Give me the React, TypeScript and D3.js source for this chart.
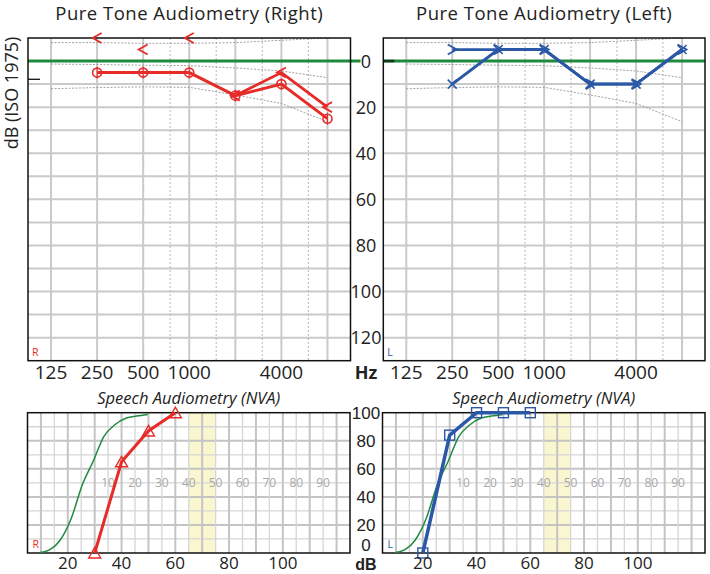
import React from 'react';
import * as d3 from 'd3';

// ---------- data ----------
const octaveFreqs = [125, 250, 500, 1000, 2000, 4000, 8000];
const halfOctaveFreqs = [750, 1500, 3000, 6000];
const freqTickValues = [125, 250, 500, 1000, 4000];
const freqTickLabels = ['125', '250', '500', '1000', '4000'];
const dbGridValues = [10, 20, 30, 40, 50, 60, 70, 80, 90, 100, 110, 120];
const dbTickValues = [0, 20, 40, 60, 80, 100, 120];

const normUpper = [-8, -8, -7.7, -7.7, -8, -9, -10];
const normMiddle = [1.3, 1.5, 1.8, 2, 3, 4.3, 7.2];
const normLower = [12, 11.5, 11.2, 11.4, 14.7, 18.4, 26.3];

const rightAcFreqs = [250, 500, 1000, 2000, 4000, 8000];
const rightAcValues = [5, 5, 5, 15, 10, 25];
const rightBoneMarkFreqs = [250, 500, 1000];
const rightBoneMarkValues = [-10, -5, -10];
const rightBoneLineFreqs = [2000, 4000, 8000];
const rightBoneLineValues = [15, 5, 20];

const leftAcFreqs = [250, 500, 1000, 2000, 4000, 8000];
const leftAcValues = [10, -5, -5, 10, 10, -5];
const leftBoneFreqs = [250, 500, 1000, 2000, 4000, 8000];
const leftBoneValues = [-5, -5, -5, 10, 10, -5];

const speechNormDb = [9.7, 13.5, 17.2, 21.3, 25.4, 29.4, 33.4, 37.5, 41.8, 45.6, 49.7];
const speechNormPct = [0.3, 2.6, 9.3, 24.8, 48.6, 65.2, 83, 91.4, 96.2, 97.6, 98.8];
const speechRightDb = [30, 40, 50, 60];
const speechRightPct = [0, 65, 87, 100];
const speechLeftDb = [20, 30, 40, 50, 60];
const speechLeftPct = [0, 84, 100, 100, 100];
const speechXTicks = [20, 40, 60, 80, 100];
const speechYTicks = [0, 20, 40, 60, 80, 100];
const speechRelLabels = [10, 20, 30, 40, 50, 60, 70, 80, 90];
const comfortBand = [65, 75];

// ---------- style ----------
const RED = '#e62b29';
const BLUE = '#2b58a6';
const GREEN = '#1f8a3e';
const GRID = '#cacaca';
const FONT = '"Open Sans", "Noto Sans", sans-serif';
const FONT2 = '"Liberation Sans", Arial, sans-serif';

type Pt = [number, number];

function PureTone({ x0, x1, side }: { x0: number; x1: number; side: 'R' | 'L' }) {
  const y0 = 38, y1 = 360.7;
  const x = d3.scaleLog().base(2).domain([125 / Math.SQRT2, 8000 * Math.SQRT2]).range([x0, x1]);
  const y = d3.scaleLinear().domain([-10, 130]).range([y0, y1]);
  const line = d3.line<Pt>().x(d => x(d[0])).y(d => y(d[1]));
  const norms = [normUpper, normMiddle, normLower];
  const color = side === 'R' ? RED : BLUE;

  const lt = (cx: number, cy: number, k: string) => (
    <path key={k} d={`M${cx + 4.5},${cy - 5}L${cx - 4.5},${cy}L${cx + 4.5},${cy + 5}`} fill="none" stroke={RED} strokeWidth={1.8} />
  );
  const gt = (cx: number, cy: number, k: string) => (
    <path key={k} d={`M${cx - 4.5},${cy - 5}L${cx + 4.5},${cy}L${cx - 4.5},${cy + 5}`} fill="none" stroke={BLUE} strokeWidth={1.8} />
  );
  const cross = (cx: number, cy: number, k: string) => (
    <path key={k} d={`M${cx - 4.5},${cy - 4.5}L${cx + 4.5},${cy + 4.5}M${cx - 4.5},${cy + 4.5}L${cx + 4.5},${cy - 4.5}`} fill="none" stroke={BLUE} strokeWidth={1.6} />
  );
  const circ = (cx: number, cy: number, k: string) => (
    <g key={k}>
      <circle cx={cx} cy={cy} r={4.5} fill="none" stroke={RED} strokeWidth={1.6} />
      <line x1={cx} x2={cx} y1={cy - 6} y2={cy + 6} stroke={RED} strokeWidth={1} />
    </g>
  );

  return (
    <g>
      {dbGridValues.map(v => (
        <line key={'h' + v} x1={x0} x2={x1} y1={y(v)} y2={y(v)} stroke={GRID} strokeWidth={2} />
      ))}
      {octaveFreqs.map(f => (
        <line key={'v' + f} x1={x(f)} x2={x(f)} y1={y0} y2={y1} stroke={GRID} strokeWidth={2} />
      ))}
      {halfOctaveFreqs.map(f => (
        <line key={'d' + f} x1={x(f)} x2={x(f)} y1={y0} y2={y1} stroke="#b8b8b8" strokeWidth={1} strokeDasharray="2,2" />
      ))}
      {norms.map((n, i) => (
        <path key={'n' + i} d={line(octaveFreqs.map((f, j) => [f, n[j]] as Pt)) || ''} fill="none" stroke="#8a8a8a" strokeWidth={0.8} strokeDasharray="2,1.5" />
      ))}
      <line x1={x0} x2={side === 'R' ? x1 + 10 : x1} y1={y(0)} y2={y(0)} stroke={GREEN} strokeWidth={3} />
      {side === 'L' && <line x1={x0} x2={x0 + 11} y1={y(0)} y2={y(0)} stroke="#16331f" strokeWidth={2.5} />}
      <rect x={x0} y={y0} width={x1 - x0} height={y1 - y0} fill="none" stroke="#111" strokeWidth={1.5} />
      {side === 'R' && <line x1={x0} x2={x0 + 12} y1={79.3} y2={79.3} stroke="#111" strokeWidth={1.3} />}

      {side === 'R' && (
        <g>
          <path d={line(rightBoneLineFreqs.map((f, i) => [f, rightBoneLineValues[i]] as Pt)) || ''} fill="none" stroke={color} strokeWidth={2.8} />
          <path d={line(rightAcFreqs.map((f, i) => [f, rightAcValues[i]] as Pt)) || ''} fill="none" stroke={color} strokeWidth={3} />
          {rightAcFreqs.map((f, i) => circ(x(f), y(rightAcValues[i]), 'c' + i))}
          {rightBoneLineFreqs.map((f, i) => lt(x(f), y(rightBoneLineValues[i]), 'bl' + i))}
          {rightBoneMarkFreqs.map((f, i) => lt(x(f), y(rightBoneMarkValues[i]), 'bm' + i))}
        </g>
      )}
      {side === 'L' && (
        <g>
          <path d={line(leftBoneFreqs.map((f, i) => [f, leftBoneValues[i]] as Pt)) || ''} fill="none" stroke={color} strokeWidth={2.8} />
          <path d={line(leftAcFreqs.map((f, i) => [f, leftAcValues[i]] as Pt)) || ''} fill="none" stroke={color} strokeWidth={3} />
          {leftAcFreqs.map((f, i) => cross(x(f), y(leftAcValues[i]), 'x' + i))}
          {leftBoneFreqs.map((f, i) => gt(x(f), y(leftBoneValues[i]), 'g' + i))}
        </g>
      )}

      <text x={x0 + 4} y={y1 - 5} fontSize={10.5} fill={color} fontFamily={FONT}>{side}</text>
      {freqTickValues.map((f, i) => (
        <text key={'fl' + f} x={x(f)} y={379} textAnchor="middle" fontSize={19} fill="#222" fontFamily={FONT}>{freqTickLabels[i]}</text>
      ))}
      <text x={(x0 + x1) / 2} y={19.8} textAnchor="middle" fontSize={18.5} letterSpacing={0.5} fill="#222" fontFamily={FONT}>
        {side === 'R' ? 'Pure Tone Audiometry (Right)' : 'Pure Tone Audiometry (Left)'}
      </text>
    </g>
  );
}

function Speech({ x0, x1, side }: { x0: number; x1: number; side: 'R' | 'L' }) {
  const y0 = 412.7, y1 = 553;
  const x = d3.scaleLinear().domain([5, 125]).range([x0, x1]);
  const y = d3.scaleLinear().domain([0, 100]).range([y1, y0]);
  const line = d3.line<Pt>().x(d => x(d[0])).y(d => y(d[1]));
  const smooth = d3.line<Pt>().x(d => x(d[0])).y(d => y(d[1])).curve(d3.curveMonotoneX);
  const vLines = d3.range(10, 125, 5);
  const hLines = d3.range(10, 100, 10);
  const color = side === 'R' ? RED : BLUE;
  const dbs = side === 'R' ? speechRightDb : speechLeftDb;
  const pcts = side === 'R' ? speechRightPct : speechLeftPct;

  return (
    <g>
      <rect x={x(comfortBand[0])} y={y0} width={x(comfortBand[1]) - x(comfortBand[0])} height={y1 - y0} fill="#faf6cf" />
      {hLines.map(v => (
        <line key={'h' + v} x1={x0} x2={x1} y1={y(v)} y2={y(v)} stroke={v % 20 === 0 ? '#c4c4c4' : '#d6d6d6'} strokeWidth={v % 20 === 0 ? 2 : 1.3} />
      ))}
      {vLines.map(v => (
        <line key={'v' + v} x1={x(v)} x2={x(v)} y1={y0} y2={y1} stroke={v % 10 === 0 ? '#c4c4c4' : '#d6d6d6'} strokeWidth={v % 10 === 0 ? 2 : 1.3} />
      ))}
      {speechRelLabels.map(v => (
        <text key={'r' + v} x={x(v + 25)} y={y(50) + 4.5} textAnchor="middle" fontSize={12} fill="#a8a8a8" fontFamily={FONT}>{v}</text>
      ))}
      <rect x={x0} y={y0} width={x1 - x0} height={y1 - y0} fill="none" stroke="#111" strokeWidth={1.5} />
      <path d={smooth(speechNormDb.map((d, i) => [d, speechNormPct[i]] as Pt)) || ''} fill="none" stroke={GREEN} strokeWidth={1.5} />
      <path d={line(dbs.map((d, i) => [d, pcts[i]] as Pt)) || ''} fill="none" stroke={color} strokeWidth={side === 'R' ? 3 : 3.5} />
      {dbs.map((d, i) => {
        const cx = x(d), cy = y(pcts[i]);
        return side === 'R' ? (
          <path key={'m' + i} d={`M${cx},${cy - 5.5}L${cx + 6},${cy + 5}L${cx - 6},${cy + 5}Z`} fill="none" stroke={RED} strokeWidth={1.4} />
        ) : (
          <rect key={'m' + i} x={cx - 5} y={cy - 5} width={10} height={10} fill="none" stroke={BLUE} strokeWidth={1.4} />
        );
      })}
      <text x={x0 + 5} y={y1 - 5} fontSize={10.5} fill={color} fontFamily={FONT}>{side}</text>
      {speechXTicks.map(v => (
        <text key={'xl' + v} x={x(v)} y={569} textAnchor="middle" fontSize={17} fill="#222" fontFamily={FONT}>{v}</text>
      ))}
      <text x={(x0 + x1) / 2} y={404} textAnchor="middle" fontSize={16.5} fontStyle="italic" fill="#222" fontFamily={FONT}>Speech Audiometry (NVA)</text>
    </g>
  );
}

export default function App() {
  const yTop = d3.scaleLinear().domain([-10, 130]).range([38, 360.7]);
  const ySp = d3.scaleLinear().domain([0, 100]).range([553, 412.7]);
  return (
    <svg width={710} height={574} style={{ position: 'absolute', left: 0, top: 0, background: '#fff' }}>
      <rect width={710} height={574} fill="#fff" />
      <PureTone x0={28} x1={350.5} side="R" />
      <PureTone x0={383.3} x1={705} side="L" />
      <Speech x0={27.5} x1={350} side="R" />
      <Speech x0={382.5} x1={705} side="L" />
      {dbTickValues.map(v => (
        <text key={'yt' + v} x={366} y={yTop(v) + 6.5} textAnchor="middle" fontSize={18} fill="#222" fontFamily={FONT}>{v}</text>
      ))}
      {speechYTicks.map(v => (
        <text key={'ys' + v} x={366} y={v === 0 ? 550.5 : ySp(v) + 6} textAnchor="middle" fontSize={17} fill="#222" fontFamily={FONT2}>{v}</text>
      ))}
      <text x={366} y={379} textAnchor="middle" fontSize={18} fontWeight="bold" fill="#222" fontFamily={FONT}>Hz</text>
      <text x={366} y={569.5} textAnchor="middle" fontSize={16} fontWeight="bold" fill="#222" fontFamily={FONT2}>dB</text>
      <text transform="translate(18,93) rotate(-90)" textAnchor="middle" fontSize={18} fill="#222" fontFamily={FONT}>dB (ISO 1975)</text>
    </svg>
  );
}
